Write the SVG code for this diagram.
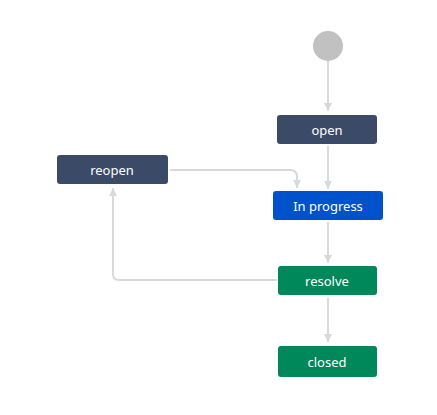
<svg xmlns="http://www.w3.org/2000/svg" width="437" height="415" viewBox="0 0 437 415">
<style>
.n rect{stroke:none}
.t{font-family:"Noto Sans","Open Sans","DejaVu Sans",sans-serif;font-size:13px;fill:#ffffff;text-anchor:middle;dominant-baseline:central}
.c path{fill:none;stroke:#d9d9d9;stroke-width:2}
</style>
<defs>
<marker id="a" viewBox="0 0 8 8" refX="8" refY="4" markerWidth="8" markerHeight="8" markerUnits="userSpaceOnUse" orient="auto">
<path d="M0,0 L8,4 L0,8 z" fill="#d9d9d9"/>
</marker>
</defs>
<rect width="437" height="415" fill="#ffffff"/>
<g class="c" id="connectors">
<path d="M328,61 V111" marker-end="url(#a)"/>
<path d="M328,146 V189" marker-end="url(#a)"/>
<path d="M170,170 H290 Q297,170 297,177 V188" marker-end="url(#a)"/>
<path d="M328,222 V263" marker-end="url(#a)"/>
<path d="M277,280 H119 Q113,280 113,274 V188" marker-end="url(#a)"/>
<path d="M328,298 V342" marker-end="url(#a)"/>
</g>
<g id="start"><circle cx="328" cy="46" r="15" fill="#c1c1c1"/></g>
<g id="open" class="n"><rect x="277" y="115" width="100" height="29" rx="3" fill="#3b4a67"/><text class="t" x="327" y="130">open</text></g>
<g id="inprogress" class="n"><rect x="273" y="191" width="110" height="29" rx="3" fill="#0052cc"/><text class="t" x="328" y="206">In progress</text></g>
<g id="reopen" class="n"><rect x="57" y="155" width="111" height="29" rx="3" fill="#3b4a67"/><text class="t" x="112" y="170">reopen</text></g>
<g id="resolve" class="n"><rect x="278" y="266" width="99" height="29" rx="3" fill="#00875a"/><text class="t" x="327" y="281">resolve</text></g>
<g id="closed" class="n"><rect x="278" y="346" width="99" height="31" rx="3" fill="#00875a"/><text class="t" x="327" y="362">closed</text></g>
</svg>
